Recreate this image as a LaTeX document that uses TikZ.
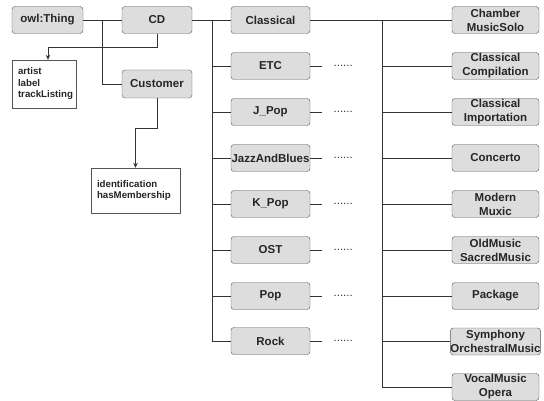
\documentclass[tikz,border=0pt]{standalone}
\usepackage{fontspec}
\setmainfont{Liberation Sans}
\usetikzlibrary{arrows.meta}
\definecolor{boxfill}{HTML}{DDDDDD}
\definecolor{boxline}{HTML}{555555}
\definecolor{conn}{HTML}{333333}
\tikzset{
  cls/.style={draw=boxline, fill=boxfill, rounded corners=3pt, inner sep=0pt,
    minimum height=27pt, font=\fontsize{11.5}{14}\selectfont\bfseries, text=black!85, align=center},
  lbox/.style={cls, minimum width=79pt},
  rbox/.style={cls, minimum width=87pt},
  attr/.style={draw=boxline, fill=white, inner xsep=6pt, inner ysep=0pt,
    font=\fontsize{9.7}{11.5}\selectfont\bfseries, text=black!85, align=left},
  conn/.style={draw=conn, line width=0.7pt},
  arr/.style={conn, -{Stealth[length=5pt,width=4.5pt]}},
  dots/.style={font=\fontsize{11.5}{13}\selectfont, text=black!80, inner sep=0pt}
}
\begin{document}
\begin{tikzpicture}[x=1pt,y=-1pt]
\useasboundingbox (0,0) rectangle (544,401);
% top-left
\node[cls, minimum width=71pt] (owl) at (47.5,20) {owl:Thing};
\node[cls, minimum width=70pt] (cd) at (157,20) {CD};
\node[cls, minimum width=70pt, minimum height=28pt] (cust) at (157,84) {Customer};
\node[attr, text width=52pt, minimum height=48pt] (att1) at (44,84) {artist\\label\\trackListing};
\node[attr, text width=77pt, minimum height=45pt] (att2) at (135.5,190.5) {identification\\hasMembership};
% middle column
\node[lbox] (classical) at (270.5,20) {Classical};
\node[lbox] (etc) at (270.5,66) {ETC};
\node[lbox] (jpop) at (270.5,112) {J\_Pop};
\node[lbox] (jazz) at (270.5,158) {JazzAndBlues};
\node[lbox] (kpop) at (270.5,204) {K\_Pop};
\node[lbox] (ost) at (270.5,250) {OST};
\node[lbox] (pop) at (270.5,296) {Pop};
\node[lbox] (rock) at (270.5,341) {Rock};
% right column
\node[rbox] (chamber) at (495.5,20) {Chamber\\MusicSolo};
\node[rbox] (ccomp) at (495.5,66) {Classical\\Compilation};
\node[rbox] (cimp) at (495.5,112) {Classical\\Importation};
\node[rbox] (concerto) at (495.5,158) {Concerto};
\node[rbox] (modern) at (495.5,204) {Modern\\Muxic};
\node[rbox] (old) at (495.5,250) {OldMusic\\SacredMusic};
\node[rbox] (package) at (495.5,296) {Package};
\node[rbox] (sym) at (495.5,341.5) {Symphony\\OrchestralMusic};
\node[rbox] (vocal) at (495.5,387) {VocalMusic\\Opera};
% connectors top-left
\draw[conn] (owl.east) -- (cd.west);
\coordinate (j1) at (102,20);
\draw[conn] (j1) |- (cust.west);
\coordinate (a1) at (48,47);
\draw[arr] (cd.south) |- (a1) -- (a1 |- att1.north);
\draw[arr] (cust.south) -- ++(0,30) -| (att2.north);
% middle trunk
\draw[conn] (cd.east) -- (classical.west);
\coordinate (t) at (212,20);
\draw[conn] (t) |- (rock.west);
\foreach \n in {etc,jpop,jazz,kpop,ost,pop}
  \draw[conn] (t |- \n.west) -- (\n.west);
% dots
\foreach \n in {etc,jpop,jazz,kpop,ost,pop,rock}{
  \node[dots] (d\n) at ([xshift=33pt]\n.east) {......};
  \draw[conn] (\n.east) -- ++(12,0);
}
% right trunk
\draw[conn] (classical.east) -- (chamber.west);
\coordinate (rt) at (382,20);
\draw[conn] (rt) |- (vocal.west);
\foreach \n in {ccomp,cimp,concerto,modern,old,package,sym}
  \draw[conn] (rt |- \n.west) -- (\n.west);
\end{tikzpicture}
\end{document}
